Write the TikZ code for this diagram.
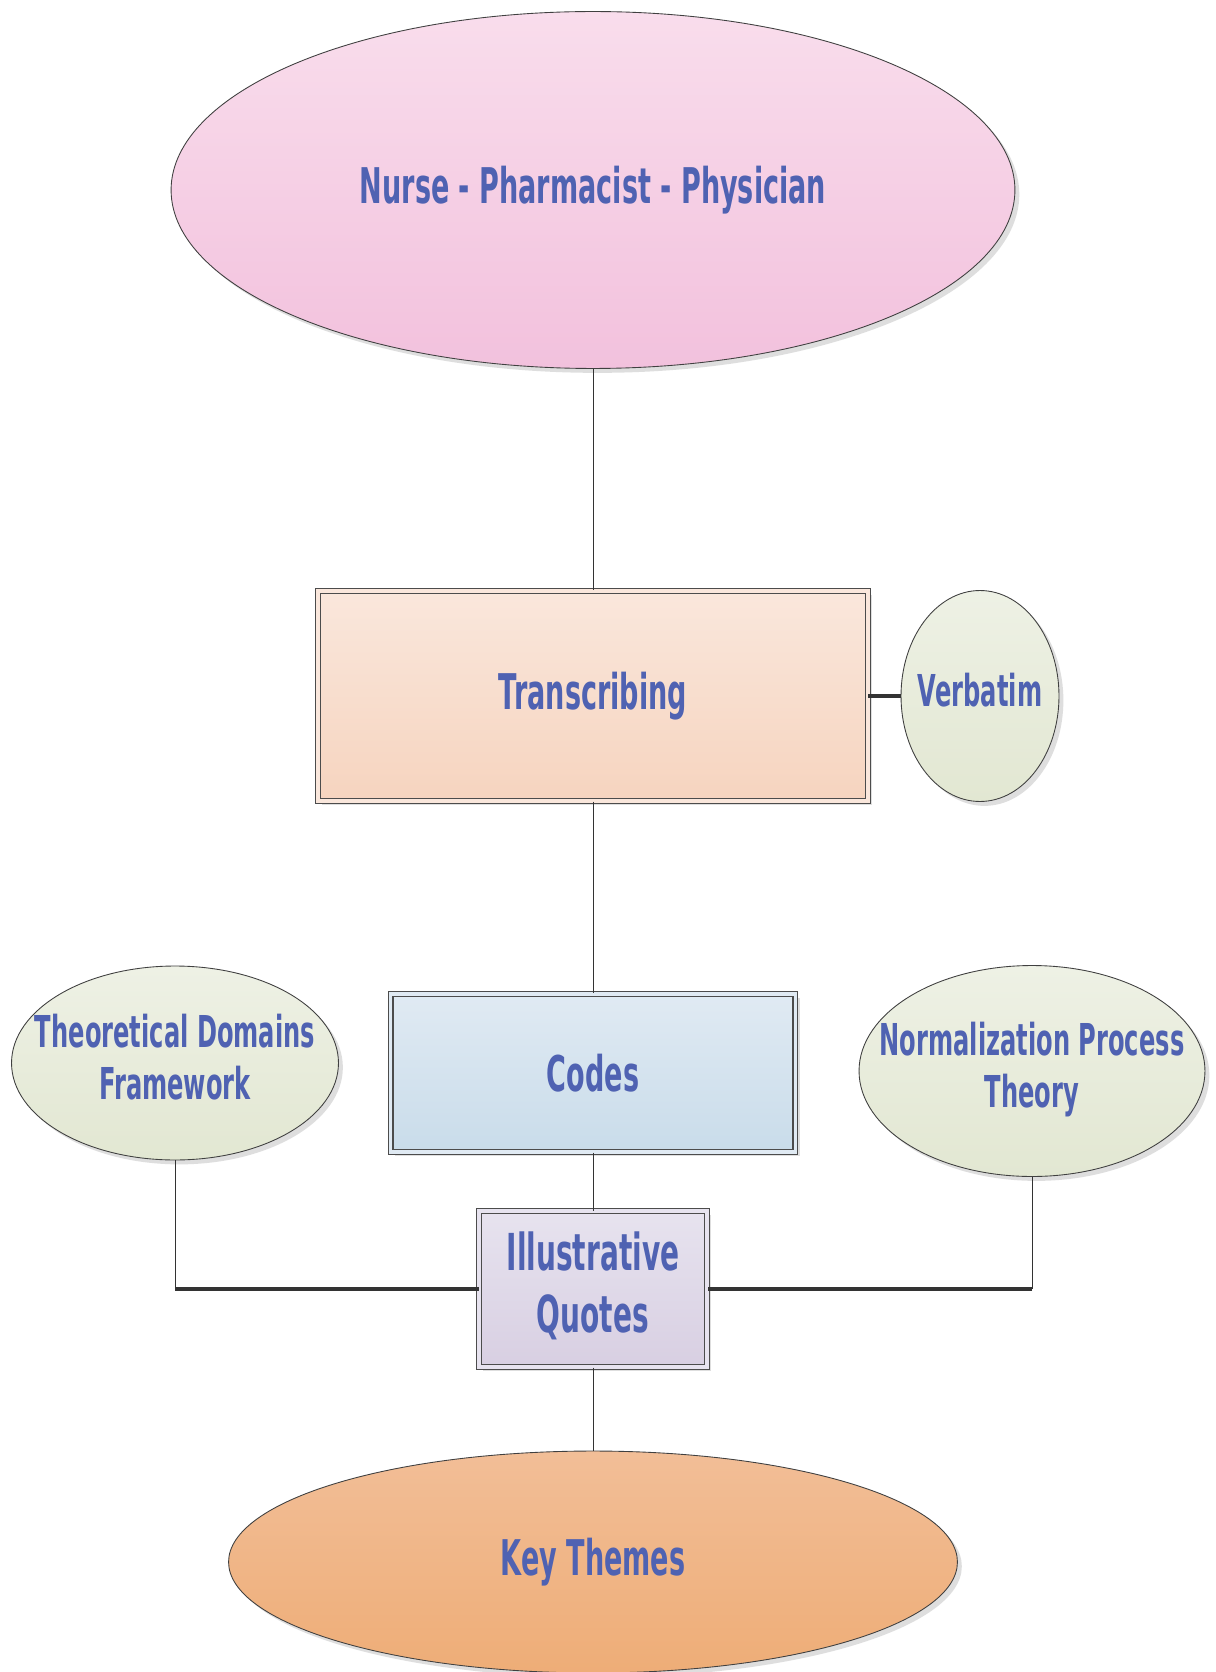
\documentclass[tikz,border=0pt]{standalone}
\usepackage{fontspec}
\newfontfamily\lblfont[FakeStretch=0.55]{DejaVu Sans}
\usetikzlibrary{shapes.geometric,shadows}

\definecolor{txtblue}{RGB}{79,98,178}
\definecolor{pinkA}{HTML}{F9DDEC}
\definecolor{pinkB}{HTML}{F2C1DD}
\definecolor{peachA}{HTML}{FAE7DC}
\definecolor{peachB}{HTML}{F6D4BF}
\definecolor{sageA}{HTML}{EEF1E5}
\definecolor{sageB}{HTML}{E2E7D2}
\definecolor{skyA}{HTML}{E0EAF3}
\definecolor{skyB}{HTML}{C9DCEA}
\definecolor{lilacA}{HTML}{E7E3EF}
\definecolor{lilacB}{HTML}{D8CFE2}
\definecolor{apricotA}{HTML}{F2BE97}
\definecolor{apricotB}{HTML}{EEAD77}

\newcommand{\ctr}[1]{\makebox[0pt]{\begin{tabular}{@{}c@{}}#1\end{tabular}}}

\begin{document}
\begin{tikzpicture}[x=0.02cm, y=0.02cm,
    every node/.style={inner sep=0, text=txtblue, font=\lblfont\bfseries\fontsize{28}{32}\selectfont},
    oval/.style={ellipse, draw=black!75, line width=0.5pt,
        drop shadow={shadow xshift=2.5pt, shadow yshift=-2.5pt, fill=black!25}},
    box/.style={rectangle, draw=black!70, line width=0.6pt, double distance=2.2pt,
        drop shadow={shadow xshift=2.5pt, shadow yshift=-2.5pt, fill=black!25}}]
    \useasboundingbox[fill=white] (0,0) rectangle (1216,-1672);

    \draw(593,-190) node [oval, top color=pinkA, bottom color=pinkB, minimum width=16.88cm, minimum height=7.14cm](team){Nurse - Pharmacist - Physician};

    \draw(593,-696) node [box, double=peachA, top color=peachA, bottom color=peachB, minimum width=11.0cm, minimum height=4.2cm](trans){Transcribing};
    \draw(980,-696) node [oval, top color=sageA, bottom color=sageB, minimum width=3.16cm, minimum height=4.22cm, font=\lblfont\bfseries\fontsize{25}{30}\selectfont](verb){\ctr{Verbatim}};

    \draw(593,-1073) node [box, double=skyA, top color=skyA, bottom color=skyB, minimum width=8.1cm, minimum height=3.16cm](codes){Codes};
    \draw(175,-1063) node [oval, top color=sageA, bottom color=sageB, minimum width=6.54cm, minimum height=3.88cm, font=\lblfont\bfseries\fontsize{25}{30}\selectfont](tdf){\ctr{Theoretical Domains\\ Framework}};
    \draw(1032,-1071) node [oval, top color=sageA, bottom color=sageB, minimum width=6.92cm, minimum height=4.22cm, font=\lblfont\bfseries\fontsize{25}{30}\selectfont](npt){\ctr{Normalization Process\\ Theory}};

    \draw(593,-1289) node [box, double=lilacA, top color=lilacA, bottom color=lilacB, minimum width=4.56cm, minimum height=3.12cm, font=\lblfont\bfseries\fontsize{29}{35}\selectfont](quotes){\ctr{Illustrative\\ Quotes}};

    \draw(593,-1562) node [oval, top color=apricotA, bottom color=apricotB, minimum width=14.58cm, minimum height=4.44cm](themes){Key Themes};

    \draw[black!80, line width=0.5pt] (team) -- (trans);
    \draw[black!80, line width=0.5pt] (trans) -- (codes);
    \draw[black!80, line width=0.5pt] (codes) -- (quotes);
    \draw[black!80, line width=0.5pt] (quotes) -- (themes);
    \draw[black!80, line width=2pt] (trans) -- (verb);

    \draw[black!80, line width=0.5pt] (tdf.south) -- (tdf.south |- quotes.west);
    \draw[black!80, line width=2pt] (tdf.south |- quotes.west) -- (quotes.west);
    \draw[black!80, line width=0.5pt] (npt.south) -- (npt.south |- quotes.east);
    \draw[black!80, line width=2pt] (npt.south |- quotes.east) -- (quotes.east);
\end{tikzpicture}
\end{document}
